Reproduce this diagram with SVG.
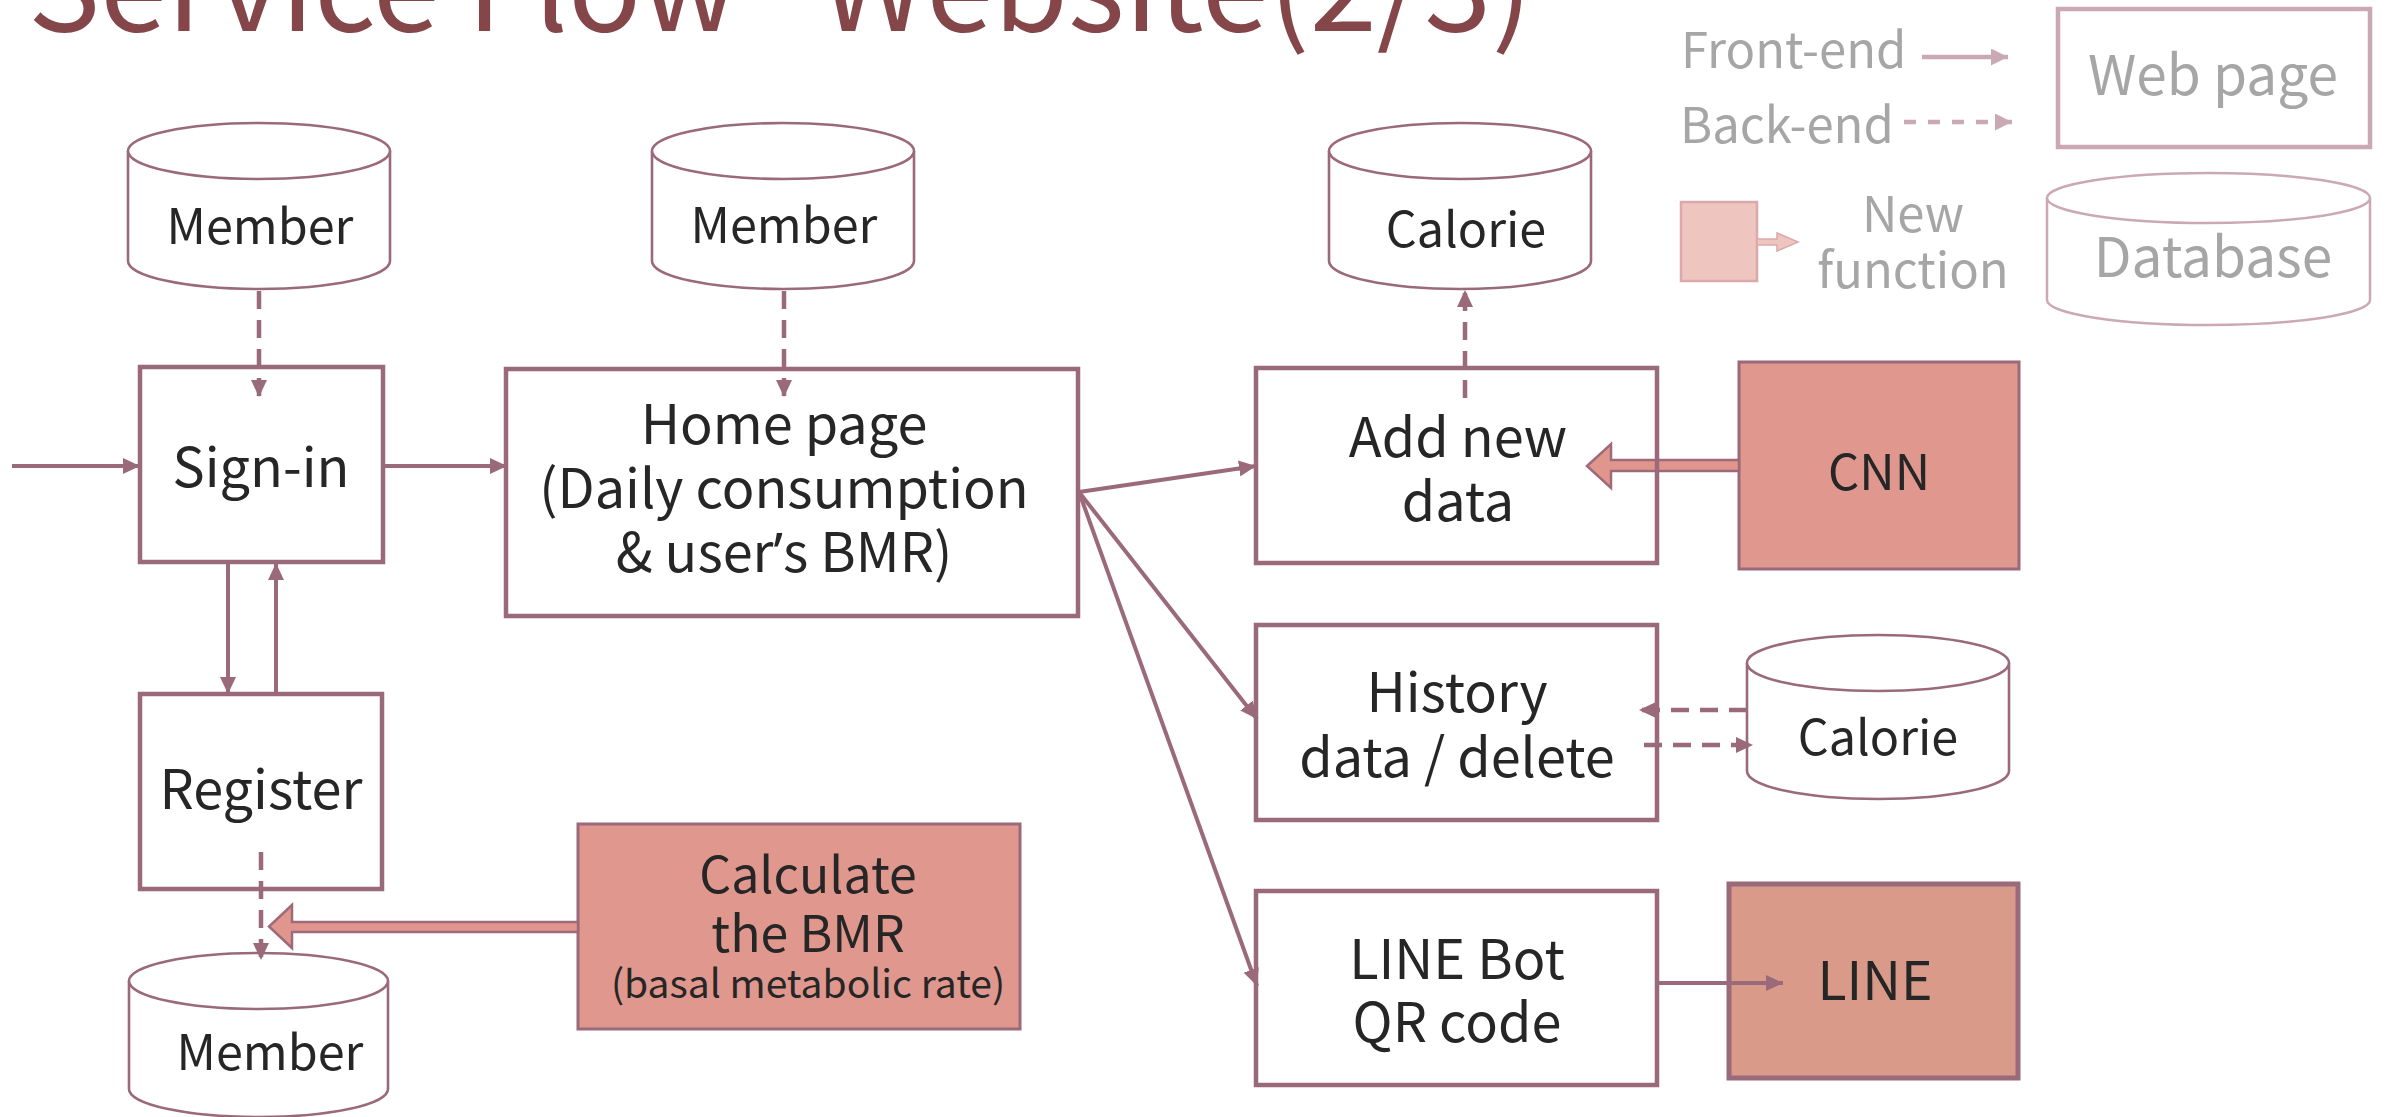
<svg xmlns="http://www.w3.org/2000/svg" width="2392" height="1117" viewBox="0 0 2392 1117">
  <defs>
    <style>
      .txt { font-family: "Noto Sans CJK TC", "Noto Sans", "Liberation Sans", sans-serif; fill: #262626; text-anchor: middle; }
      .t54 { font-size: 54px; }
      .tdb { font-size: 48.5px; }
      .legend { font-family: "Noto Sans CJK TC", "Noto Sans", "Liberation Sans", sans-serif; fill: #A6A6A6; }
      .box { fill: #FFFFFF; stroke: #9A6A7A; stroke-width: 4.5; }
      .frame { fill: none; stroke: #9A6A7A; stroke-width: 4.5; }
      .fn { fill: #DF978E; stroke: #9A6A7A; stroke-width: 3; }
      .db { fill: #FFFFFF; stroke: #9A6A7A; stroke-width: 2.6; }
      .flow { fill: none; stroke: #9A6A7A; stroke-width: 4; }
      .back { fill: none; stroke: #9A6A7A; stroke-width: 4.5; stroke-dasharray: 18 11; }
      .block { fill: #E0968D; stroke: #9E6A7A; stroke-width: 2.5; stroke-linejoin: miter; }
      .lg-line { fill: none; stroke: #CBA9B4; stroke-width: 4.5; }
      .lg-dash { fill: none; stroke: #CBA9B4; stroke-width: 4.5; stroke-dasharray: 12 12; }
    </style>
    <marker id="arrow" viewBox="0 0 10 10" refX="10" refY="5" markerUnits="userSpaceOnUse" markerWidth="17" markerHeight="16" orient="auto" preserveAspectRatio="none">
      <path d="M0,0 L10,5 L0,10 z" fill="#9A6A7A"/>
    </marker>
    <marker id="arrow-lg" viewBox="0 0 10 10" refX="10" refY="5" markerUnits="userSpaceOnUse" markerWidth="17" markerHeight="17" orient="auto" preserveAspectRatio="none">
      <path d="M0,0 L10,5 L0,10 z" fill="#CBA9B4"/>
    </marker>
  </defs>

  <rect x="0" y="0" width="2392" height="1117" fill="#FFFFFF"/>

  <!-- title (clipped by the top edge) -->
  <text y="31" font-family="'Noto Sans CJK TC', 'Noto Sans', sans-serif" font-size="121" fill="#85464A"><tspan x="28">Service Flow</tspan><tspan x="820">Website(2/3)</tspan></text>

  <!-- legend -->
  <g id="legend">
    <text class="legend" x="1681" y="68" font-size="49">Front-end</text>
    <line class="lg-line" x1="1922" y1="57" x2="2008" y2="57" marker-end="url(#arrow-lg)"/>
    <text class="legend" x="1680" y="143" font-size="49">Back-end</text>
    <line class="lg-dash" x1="1904" y1="122" x2="2012" y2="122" marker-end="url(#arrow-lg)"/>
    <rect x="2058" y="9" width="312" height="138" fill="#FFFFFF" stroke="#CBA9B4" stroke-width="4.5"/>
    <text class="legend" x="2213" y="95" font-size="55" text-anchor="middle">Web page</text>
    <rect x="1681" y="202" width="76" height="79" fill="#EEC5BF" stroke="#DBA9AA" stroke-width="2.5"/>
    <polygon points="1757,239 1777,239 1777,233 1798,242 1777,251 1777,245 1757,245" fill="#EEC5BF" stroke="#DBA9AA" stroke-width="1.5"/>
    <text class="legend" x="1913" y="232" font-size="49" text-anchor="middle">New</text>
    <text class="legend" x="1913" y="288" font-size="49" text-anchor="middle">function</text>
    <path d="M2047,198 L2047,300 A161.5,25 0 0 0 2370,300 L2370,198" fill="#FFFFFF" stroke="#CBA9B4" stroke-width="2.5"/>
    <ellipse cx="2208.5" cy="198" rx="161.5" ry="25" fill="#FFFFFF" stroke="#CBA9B4" stroke-width="2.5"/>
    <text class="legend" x="2213" y="277" font-size="55" text-anchor="middle">Database</text>
  </g>

  <!-- databases -->
  <g id="db-member-signin">
    <path class="db" d="M128,151 L128,261 A131,28 0 0 0 390,261 L390,151"/>
    <ellipse class="db" cx="259" cy="151" rx="131" ry="28"/>
    <text class="txt tdb" x="260" y="244">Member</text>
  </g>
  <g id="db-member-home">
    <path class="db" d="M652,151 L652,261 A131,28 0 0 0 914,261 L914,151"/>
    <ellipse class="db" cx="783" cy="151" rx="131" ry="28"/>
    <text class="txt tdb" x="784" y="243">Member</text>
  </g>
  <g id="db-calorie-add">
    <path class="db" d="M1329,151 L1329,261 A131,28 0 0 0 1591,261 L1591,151"/>
    <ellipse class="db" cx="1460" cy="151" rx="131" ry="28"/>
    <text class="txt tdb" x="1466" y="247">Calorie</text>
  </g>
  <g id="db-calorie-history">
    <path class="db" d="M1747,663 L1747,771 A131,28 0 0 0 2009,771 L2009,663"/>
    <ellipse class="db" cx="1878" cy="663" rx="131" ry="28"/>
    <text class="txt tdb" x="1878" y="755">Calorie</text>
  </g>
  <g id="db-member-register">
    <path class="db" d="M129,981 L129,1089 A129.5,28 0 0 0 388,1089 L388,981"/>
    <ellipse class="db" cx="258.5" cy="981" rx="129.5" ry="28"/>
    <text class="txt tdb" x="270" y="1070">Member</text>
  </g>

  <!-- web pages -->
  <g id="signin">
    <rect class="box" x="140" y="367" width="243" height="195"/>
    <text class="txt t54" x="261" y="487">Sign-in</text>
  </g>
  <g id="home">
    <rect class="box" x="506" y="369" width="572" height="247"/>
    <text class="txt t54" x="784" y="444">Home page</text>
    <text class="txt t54" x="784" y="508">(Daily consumption</text>
    <text class="txt t54" x="784" y="572">&amp; user<tspan font-family="'Noto Sans', 'Liberation Sans', sans-serif">’</tspan>s BMR)</text>
  </g>
  <g id="register">
    <rect class="box" x="140" y="694" width="242" height="195"/>
    <text class="txt t54" x="261" y="809">Register</text>
  </g>
  <g id="history">
    <rect class="box" x="1256" y="625" width="401" height="195"/>
    <text class="txt t54" x="1457" y="712">History</text>
    <text class="txt t54" x="1457" y="777">data / delete</text>
  </g>
  <g id="linebot">
    <rect class="box" x="1256" y="891" width="401" height="194"/>
    <text class="txt t54" x="1457" y="979">LINE Bot</text>
    <text class="txt t54" x="1457" y="1042">QR code</text>
  </g>

  <!-- new functions -->
  <g id="cnn">
    <rect class="fn" x="1739" y="362" width="280" height="207"/>
    <polygon class="block" points="1739,460 1611,460 1611,444 1587,466 1611,488 1611,471 1739,471"/>
    <text class="txt" x="1879" y="490" font-size="49">CNN</text>
  </g>
  <!-- add-data frame sits over the CNN arrow so its edge stays visible -->
  <g id="add-data">
    <rect class="frame" x="1256" y="368" width="401" height="195"/>
    <text class="txt t54" x="1458" y="457">Add new</text>
    <text class="txt t54" x="1458" y="521">data</text>
  </g>
  <g id="bmr">
    <rect class="fn" x="578" y="824" width="442" height="205"/>
    <polygon class="block" points="578,922 292,922 292,905 269,926.5 292,948 292,932 578,932"/>
    <text class="txt" x="808" y="893" font-size="50">Calculate</text>
    <text class="txt" x="808" y="952" font-size="50">the BMR</text>
    <text class="txt" x="808" y="998" font-size="39">(basal metabolic rate)</text>
  </g>
  <g id="line">
    <rect x="1729" y="884" width="289" height="194" fill="#D99A89" stroke="#9A6A7A" stroke-width="5"/>
    <text class="txt" x="1875" y="1000" font-size="53.5">LINE</text>
  </g>

  <!-- connectors -->
  <g id="connectors">
    <line class="flow" x1="12" y1="466" x2="140" y2="466" marker-end="url(#arrow)"/>
    <line class="flow" x1="383" y1="466" x2="507" y2="466" marker-end="url(#arrow)"/>
    <line class="flow" x1="228" y1="562" x2="228" y2="694" marker-end="url(#arrow)"/>
    <line class="flow" x1="276" y1="694" x2="276" y2="563" marker-end="url(#arrow)"/>
    <line class="back" x1="259" y1="291" x2="259" y2="397" marker-end="url(#arrow)"/>
    <line class="back" x1="784" y1="291" x2="784" y2="397" marker-end="url(#arrow)"/>
    <line class="back" x1="1465" y1="398" x2="1465" y2="290" marker-end="url(#arrow)"/>
    <line class="flow" x1="1079" y1="492" x2="1256" y2="466" marker-end="url(#arrow)"/>
    <line class="flow" x1="1079" y1="492" x2="1257" y2="719" marker-end="url(#arrow)"/>
    <line class="flow" x1="1079" y1="492" x2="1257" y2="986" marker-end="url(#arrow)"/>
    <line class="back" x1="1747" y1="710" x2="1639" y2="710" marker-end="url(#arrow)"/>
    <line class="back" x1="1644" y1="745" x2="1753" y2="745" marker-end="url(#arrow)"/>
    <line class="flow" x1="1658" y1="983" x2="1783" y2="983" marker-end="url(#arrow)"/>
    <line class="back" x1="261" y1="852" x2="261" y2="960" marker-end="url(#arrow)"/>
  </g>
</svg>
